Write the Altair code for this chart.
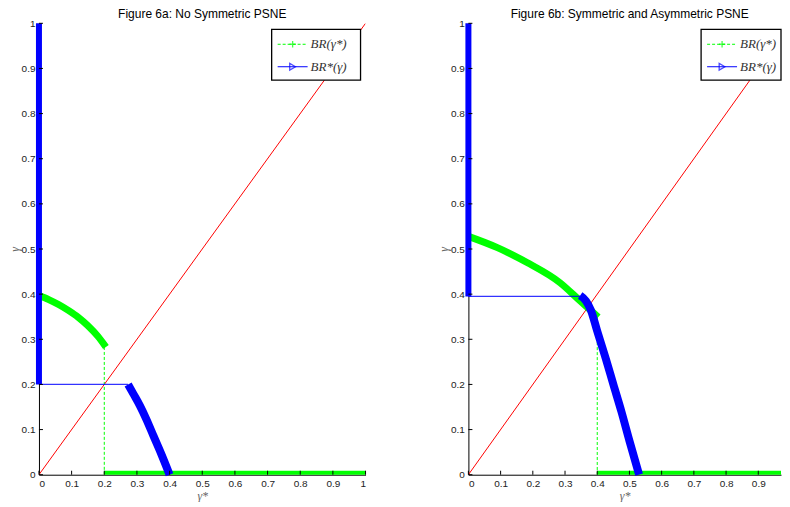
import altair as alt
import pandas as pd

# ---------------- Figure 6a data ----------------
a_blue_vert_x = [0.0, 0.0]
a_blue_vert_y = [0.2, 1.0]
a_blue_link_x = [0.0, 0.273]
a_blue_link_y = [0.2, 0.2]
a_blue_curve_x = [0.273, 0.29, 0.309, 0.33, 0.35, 0.375, 0.40]
a_blue_curve_y = [0.200, 0.178, 0.153, 0.121, 0.087, 0.045, 0.0]
a_green_curve_x = [0.0, 0.03, 0.06, 0.09, 0.12, 0.15, 0.18, 0.205]
a_green_curve_y = [0.397, 0.388, 0.377, 0.364, 0.349, 0.330, 0.307, 0.283]
a_green_dash_x = [0.20, 0.20]
a_green_dash_y = [0.283, 0.0]
a_green_flat_x = [0.20, 1.0]
a_green_flat_y = [0.0, 0.0]

# ---------------- Figure 6b data ----------------
b_blue_vert_x = [0.0, 0.0]
b_blue_vert_y = [0.395, 1.0]
b_blue_link_x = [0.0, 0.347]
b_blue_link_y = [0.395, 0.395]
b_blue_curve_x = [0.347, 0.365, 0.38, 0.40, 0.427, 0.45, 0.475, 0.50, 0.53]
b_blue_curve_y = [0.397, 0.385, 0.365, 0.318, 0.256, 0.200, 0.140, 0.075, 0.0]
b_green_curve_x = [0.0, 0.09, 0.182, 0.285, 0.347, 0.403]
b_green_curve_y = [0.528, 0.503, 0.470, 0.425, 0.385, 0.349]
b_green_dash_x = [0.40, 0.40]
b_green_dash_y = [0.349, 0.0]
b_green_flat_x = [0.40, 1.0]
b_green_flat_y = [0.0, 0.0]

diag_x = [0.0, 1.0]
diag_y = [0.0, 1.0]

a_xticks = [0, 0.1, 0.2, 0.3, 0.4, 0.5, 0.6, 0.7, 0.8, 0.9, 1.0]
b_xticks = [0, 0.1, 0.2, 0.3, 0.4, 0.5, 0.6, 0.7, 0.8, 0.9]
yticks = [0, 0.1, 0.2, 0.3, 0.4, 0.5, 0.6, 0.7, 0.8, 0.9, 1.0]

legend_labels = ["BR(γ*)", "BR*(γ)"]
titles = ["Figure 6a: No Symmetric PSNE", "Figure 6b: Symmetric and Asymmetric PSNE"]

GREEN = "#00ff00"
BLUE = "#0000ff"
RED = "#ff0000"
H = 452


def seg(xs, ys):
    return pd.DataFrame({"x": xs, "y": ys, "i": list(range(len(xs)))})


def panel(d, title, xmax, width, xticks, title_dx):
    xs = alt.Scale(domain=[0, xmax], nice=False, zero=False)
    ys = alt.Scale(domain=[0, 1], nice=False, zero=False)
    xa = alt.Axis(values=xticks, format=".1~f", grid=False, ticks=False,
                  labelFont="Liberation Sans", labelFontSize=10, labelColor="#222",
                  labelPadding=4, domainColor="#000", domainWidth=1,
                  title="γ*", titleFont="Liberation Serif", titleFontStyle="italic",
                  titleFontWeight="normal", titleFontSize=12, titleColor="#666",
                  titlePadding=2)
    ya = alt.Axis(values=yticks, format=".1~f", grid=False, ticks=False,
                  labelFont="Liberation Sans", labelFontSize=10, labelColor="#222",
                  labelPadding=4, domainColor="#000", domainWidth=1,
                  title="γ", titleFont="Liberation Serif", titleFontStyle="italic",
                  titleFontWeight="normal", titleFontSize=12, titleColor="#666",
                  titlePadding=0)

    def enc(ch):
        return ch.encode(x=alt.X("x:Q", scale=xs, axis=xa),
                         y=alt.Y("y:Q", scale=ys, axis=ya),
                         order="i:O")

    layers = []
    layers.append(enc(alt.Chart(seg(diag_x, diag_y)).mark_line(color=RED, strokeWidth=1, clip=True)))
    layers.append(enc(alt.Chart(seg(d["gc_x"], d["gc_y"])).mark_line(
        color=GREEN, strokeWidth=7, interpolate="monotone")))
    layers.append(enc(alt.Chart(seg(d["gf_x"], d["gf_y"])).mark_line(color=GREEN, strokeWidth=8, clip=True)))
    layers.append(enc(alt.Chart(seg(d["gd_x"], d["gd_y"])).mark_line(color=GREEN, strokeWidth=1, strokeDash=[3, 2])))
    layers.append(enc(alt.Chart(seg(d["bl_x"], d["bl_y"])).mark_line(color=BLUE, strokeWidth=1.2, opacity=0.8)))
    layers.append(enc(alt.Chart(seg(d["bv_x"], d["bv_y"])).mark_line(color=BLUE, strokeWidth=6)))
    layers.append(enc(alt.Chart(seg(d["bc_x"], d["bc_y"])).mark_line(
        color=BLUE, strokeWidth=8, interpolate="monotone")))

    # inward ticks
    xt = pd.DataFrame({"x": xticks, "y": [0.0] * len(xticks), "y2": [4.0 / H] * len(xticks)})
    layers.append(alt.Chart(xt).mark_rule(color="#000", strokeWidth=1).encode(
        x=alt.X("x:Q", scale=xs, axis=xa), y=alt.Y("y:Q", scale=ys, axis=ya), y2="y2:Q"))
    yt = pd.DataFrame({"y": yticks, "x": [0.0] * len(yticks), "x2": [4.0 / width * xmax] * len(yticks)})
    layers.append(alt.Chart(yt).mark_rule(color="#000", strokeWidth=1).encode(
        x=alt.X("x:Q", scale=xs, axis=xa), y=alt.Y("y:Q", scale=ys, axis=ya), x2="x2:Q"))

    # legend (decoration)
    lx0, lx1 = 233, min(322, width)
    one = pd.DataFrame({"k": [0]})
    box = alt.Chart(one).mark_rect(
        fill="white", stroke="#000", strokeWidth=1.3).encode(
        x=alt.value(lx0), x2=alt.value(lx1), y=alt.value(6), y2=alt.value(57))
    l1 = alt.Chart(one).mark_rule(color=GREEN, strokeDash=[3, 2], strokeWidth=1).encode(
        x=alt.value(lx0 + 6), x2=alt.value(lx0 + 36), y=alt.value(21))
    m1 = alt.Chart(one).mark_point(
        shape="M-1,0L1,0M0,-1L0,1", filled=False, color=GREEN, size=40, strokeWidth=1.3).encode(
        x=alt.value(lx0 + 21), y=alt.value(21))
    l2 = alt.Chart(one).mark_rule(color=BLUE, strokeWidth=1).encode(
        x=alt.value(lx0 + 6), x2=alt.value(lx0 + 36), y=alt.value(43.5))
    m2 = alt.Chart(one).mark_point(
        shape="triangle-right", filled=False, color=BLUE, size=45, strokeWidth=1.3).encode(
        x=alt.value(lx0 + 21), y=alt.value(43.5))
    txt = []
    for lab, yy in zip(legend_labels, [21, 43.5]):
        txt.append(alt.Chart(pd.DataFrame({"label": [lab]})).mark_text(
            align="left", baseline="middle", font="Liberation Serif", fontStyle="italic",
            fontSize=13, color="#333").encode(
            x=alt.value(lx0 + 39), y=alt.value(yy), text="label:N"))
    # panel title as text
    ttl = alt.Chart(pd.DataFrame({"label": [title]})).mark_text(
        align="center", baseline="middle", font="Liberation Sans", fontSize=12,
        color="#000").encode(x=alt.value(width / 2 + title_dx), y=alt.value(-9), text="label:N")
    layers += [box, l1, m1, l2, m2] + txt + [ttl]

    return alt.layer(*layers).properties(width=width, height=H)


da = dict(bv_x=a_blue_vert_x, bv_y=a_blue_vert_y, bl_x=a_blue_link_x, bl_y=a_blue_link_y,
          bc_x=a_blue_curve_x, bc_y=a_blue_curve_y, gc_x=a_green_curve_x, gc_y=a_green_curve_y,
          gd_x=a_green_dash_x, gd_y=a_green_dash_y, gf_x=a_green_flat_x, gf_y=a_green_flat_y)
db = dict(bv_x=b_blue_vert_x, bv_y=b_blue_vert_y, bl_x=b_blue_link_x, bl_y=b_blue_link_y,
          bc_x=b_blue_curve_x, bc_y=b_blue_curve_y, gc_x=b_green_curve_x, gc_y=b_green_curve_y,
          gd_x=b_green_dash_x, gd_y=b_green_dash_y, gf_x=b_green_flat_x, gf_y=b_green_flat_y)

WB = 313
pa = panel(da, titles[0], 1.0, 327, a_xticks, 0)
pb = panel(db, titles[1], WB / 322.5, WB, b_xticks, 5)

chart = alt.hconcat(pa, pb, spacing=71).properties(padding=0).configure_view(stroke=None)

chart.save("out.html", embed_options={"renderer": "svg", "actions": False})
